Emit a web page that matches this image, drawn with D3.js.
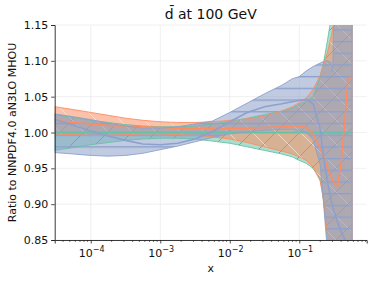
<!DOCTYPE html>
<html>
<head>
<meta charset="utf-8">
<script src="https://cdn.jsdelivr.net/npm/d3@7"></script>
<style>
  body { margin: 0; background: #fff; }
  svg { font-family: "DejaVu Sans", sans-serif; }
</style>
</head>
<body>
<div id="chart"></div>
<script>
// x grid (momentum fraction)
const xGrid = [3.02e-5, 5.62e-5, 1e-4, 1.78e-4, 3.16e-4, 5.62e-4, 1e-3, 1.78e-3, 3.16e-3, 5.62e-3,
  0.01, 0.0178, 0.0316, 0.0562, 0.0794, 0.1, 0.126, 0.158, 0.2, 0.224,
  0.251, 0.282, 0.302, 0.316, 0.355, 0.398, 0.447, 0.501, 0.575];

// reference set (green)
const greenMid = [1, 1, 1, 1, 1, 1, 1, 1, 1, 1, 1, 1, 1, 1, 1, 1, 1, 1, 1, 1, 1, 1, 1, 1, 1, 1, 1, 1, 1];
const greenLow = [0.975, 0.979, 0.983, 0.986, 0.989, 0.991, 0.992, 0.992, 0.991, 0.988,
  0.985, 0.980, 0.975, 0.970, 0.966, 0.961, 0.957, 0.950, 0.935, 0.905,
  0.855, 0.80, 0.77, 0.74, 0.70, 0.66, 0.62, 0.58, 0.55];
const greenHigh = [1.025, 1.021, 1.017, 1.014, 1.011, 1.009, 1.008, 1.008, 1.009, 1.012,
  1.015, 1.020, 1.025, 1.030, 1.034, 1.039, 1.043, 1.050, 1.078, 1.098,
  1.125, 1.155, 1.18, 1.2, 1.25, 1.3, 1.35, 1.4, 1.45];

// orange set
const orangeMid = [1.017, 1.014, 1.012, 1.010, 1.009, 1.008, 1.007, 1.006, 1.005, 1.005,
  1.005, 1.006, 1.007, 1.008, 1.009, 1.009, 1.007, 0.998, 0.978, 0.966,
  0.953, 0.940, 0.934, 0.930, 0.925, 0.955, 1.010, 1.075, 1.078];
const orangeLow = [0.998, 0.997, 0.996, 0.996, 0.997, 0.998, 0.998, 0.997, 0.996, 0.994,
  0.991, 0.986, 0.980, 0.974, 0.970, 0.966, 0.961, 0.952, 0.932, 0.905,
  0.86, 0.81, 0.78, 0.76, 0.72, 0.68, 0.64, 0.6, 0.56];
const orangeHigh = [1.036, 1.032, 1.028, 1.024, 1.020, 1.017, 1.015, 1.014, 1.014, 1.015,
  1.017, 1.019, 1.023, 1.030, 1.036, 1.042, 1.048, 1.060, 1.080, 1.095,
  1.110, 1.130, 1.145, 1.16, 1.2, 1.25, 1.3, 1.35, 1.4];

// blue set
const blueMid = [1.018, 1.010, 1.002, 0.995, 0.989, 0.984, 0.983, 0.985, 0.991, 1.001,
  1.015, 1.028, 1.036, 1.040, 1.043, 1.045, 1.046, 1.040, 1.005, 0.965,
  0.935, 0.908, 0.897, 0.890, 0.875, 0.862, 0.852, 0.842, 0.830];
const blueLow = [0.972, 0.970, 0.968, 0.967, 0.968, 0.971, 0.976, 0.981, 0.987, 0.993,
  0.998, 1.001, 1.003, 1.004, 1.004, 1.002, 1.000, 0.990, 0.955, 0.90,
  0.84, 0.75, 0.7, 0.65, 0.6, 0.55, 0.5, 0.45, 0.4];
const blueHigh = [1.026, 1.022, 1.018, 1.013, 1.009, 1.006, 1.006, 1.008, 1.012, 1.016,
  1.028, 1.041, 1.054, 1.066, 1.075, 1.078, 1.086, 1.092, 1.097, 1.099,
  1.100, 1.098, 1.085, 1.17, 1.3, 1.4, 1.5, 1.6, 1.7];

const yTicks = [0.85, 0.90, 0.95, 1.00, 1.05, 1.10, 1.15];
const xTicks = [1e-4, 1e-3, 1e-2, 1e-1];

const width = 374, height = 282;
const margin = { left: 54.7, right: 7.3, top: 25, bottom: 42 };

const svg = d3.select("#chart").append("svg")
  .attr("width", width)
  .attr("height", height);

const x = d3.scaleLog()
  .domain([3.03e-5, 0.933])
  .range([margin.left, width - margin.right]);
const y = d3.scaleLinear()
  .domain([0.85, 1.15])
  .range([height - margin.bottom, margin.top]);

const defs = svg.append("defs");
defs.append("clipPath").attr("id", "plotclip")
  .append("rect")
  .attr("x", margin.left).attr("y", margin.top)
  .attr("width", width - margin.left - margin.right)
  .attr("height", height - margin.top - margin.bottom);

// hatch patterns: '/' green, '\\' orange, '-' blue
const hatchGreen = defs.append("pattern").attr("id", "hatch-green")
  .attr("patternUnits", "userSpaceOnUse").attr("width", 24).attr("height", 24);
hatchGreen.append("path")
  .attr("d", "M-6,6 L6,-6 M0,24 L24,0 M18,30 L30,18")
  .attr("stroke", "#4fa587").attr("stroke-width", 0.9).attr("fill", "none");

const hatchOrange = defs.append("pattern").attr("id", "hatch-orange")
  .attr("patternUnits", "userSpaceOnUse").attr("width", 24).attr("height", 24);
hatchOrange.append("path")
  .attr("d", "M-6,18 L6,30 M0,0 L24,24 M18,-6 L30,6")
  .attr("stroke", "#fde4d8").attr("stroke-opacity", 0.7)
  .attr("stroke-width", 1).attr("fill", "none");

const hatchBlue = defs.append("pattern").attr("id", "hatch-blue")
  .attr("patternUnits", "userSpaceOnUse").attr("width", 24).attr("height", 11.7);
hatchBlue.append("path")
  .attr("d", "M0,6.5 L24,6.5")
  .attr("stroke", "#8da0cb").attr("stroke-width", 1.4).attr("fill", "none");

// grid
const grid = svg.append("g").attr("stroke", "#ececec").attr("stroke-width", 0.8);
grid.selectAll("line.gy").data(yTicks).join("line")
  .attr("x1", margin.left).attr("x2", width - margin.right)
  .attr("y1", d => y(d)).attr("y2", d => y(d));
grid.selectAll("line.gx").data(xTicks).join("line")
  .attr("x1", d => x(d)).attr("x2", d => x(d))
  .attr("y1", margin.top).attr("y2", height - margin.bottom);

const sets = [
  { color: "#66c2a5", low: greenLow, mid: greenMid, high: greenHigh, hatch: "hatch-green", midWidth: 2 },
  { color: "#fc8d62", low: orangeLow, mid: orangeMid, high: orangeHigh, hatch: "hatch-orange", midWidth: 1.6 },
  { color: "#8da0cb", low: blueLow, mid: blueMid, high: blueHigh, hatch: "hatch-blue", midWidth: 1.6 }
];

const area = d3.area()
  .x(d => x(d.x))
  .y0(d => y(d.lo))
  .y1(d => y(d.hi));
const line = d3.line()
  .x(d => x(d.x))
  .y(d => y(d.v));

const plot = svg.append("g").attr("clip-path", "url(#plotclip)");

sets.forEach(s => {
  const band = xGrid.map((xv, i) => ({ x: xv, lo: s.low[i], hi: s.high[i] }));
  plot.append("path").datum(band)
    .attr("d", area)
    .attr("fill", s.color)
    .attr("fill-opacity", 0.55);
  plot.append("path").datum(band)
    .attr("d", area)
    .attr("fill", `url(#${s.hatch})`);
});

sets.forEach(s => {
  const band = xGrid.map((xv, i) => ({ x: xv, lo: s.low[i], hi: s.high[i] }));
  plot.append("path").datum(band)
    .attr("d", area)
    .attr("fill", "none")
    .attr("stroke", s.color)
    .attr("stroke-width", 0.9);
  plot.append("path")
    .datum(xGrid.map((xv, i) => ({ x: xv, v: s.mid[i] })))
    .attr("d", line)
    .attr("fill", "none")
    .attr("stroke", s.color)
    .attr("stroke-width", s.midWidth);
});

// axes
const yAxis = svg.append("g")
  .attr("transform", `translate(${margin.left},0)`)
  .call(d3.axisLeft(y).tickValues(yTicks).tickFormat(d3.format(".2f")).tickSize(3.5).tickPadding(3));
const xAxis = svg.append("g")
  .attr("transform", `translate(0,${height - margin.bottom})`)
  .call(d3.axisBottom(x).tickValues(xTicks).tickFormat("").tickSize(3.5));

[yAxis, xAxis].forEach(g => {
  g.select(".domain").attr("stroke", "#222").attr("stroke-width", 0.9);
  g.selectAll(".tick line").attr("stroke", "#222").attr("stroke-width", 0.8);
});
yAxis.selectAll("text").attr("font-size", 11).attr("fill", "#111")
  .attr("font-family", "DejaVu Sans");

// minor x ticks
const minor = [];
for (let e = -5; e <= 0; e++) {
  for (let k = 2; k <= 9; k++) {
    const v = k * Math.pow(10, e);
    if (v > x.domain()[0] && v < x.domain()[1]) minor.push(v);
  }
}
svg.append("g").selectAll("line").data(minor).join("line")
  .attr("x1", d => x(d)).attr("x2", d => x(d))
  .attr("y1", height - margin.bottom).attr("y2", height - margin.bottom + 2)
  .attr("stroke", "#222").attr("stroke-width", 0.6);

// x tick labels as 10^n
const xl = svg.append("g").attr("font-size", 11).attr("fill", "#111");
xTicks.forEach(t => {
  const txt = xl.append("text")
    .attr("x", x(t) + 1)
    .attr("y", 256.5)
    .attr("text-anchor", "middle");
  txt.append("tspan").text("10");
  txt.append("tspan")
    .attr("dy", -4.5)
    .attr("font-size", 8)
    .text("\u2212" + Math.round(-Math.log10(t)));
});

// labels
svg.append("text")
  .attr("x", (margin.left + width - margin.right) / 2)
  .attr("y", 19)
  .attr("text-anchor", "middle")
  .attr("font-size", 14)
  .attr("fill", "#111")
  .text("d\u0304 at 100 GeV");

svg.append("text")
  .attr("x", (margin.left + width - margin.right) / 2)
  .attr("y", 272)
  .attr("text-anchor", "middle")
  .attr("font-size", 11)
  .attr("fill", "#111")
  .text("x");

svg.append("text")
  .attr("transform", `translate(16,${(margin.top + height - margin.bottom) / 2}) rotate(-90)`)
  .attr("text-anchor", "middle")
  .attr("font-size", 11)
  .attr("fill", "#111")
  .text("Ratio to NNPDF4.0 aN3LO MHOU");
</script>
</body>
</html>
